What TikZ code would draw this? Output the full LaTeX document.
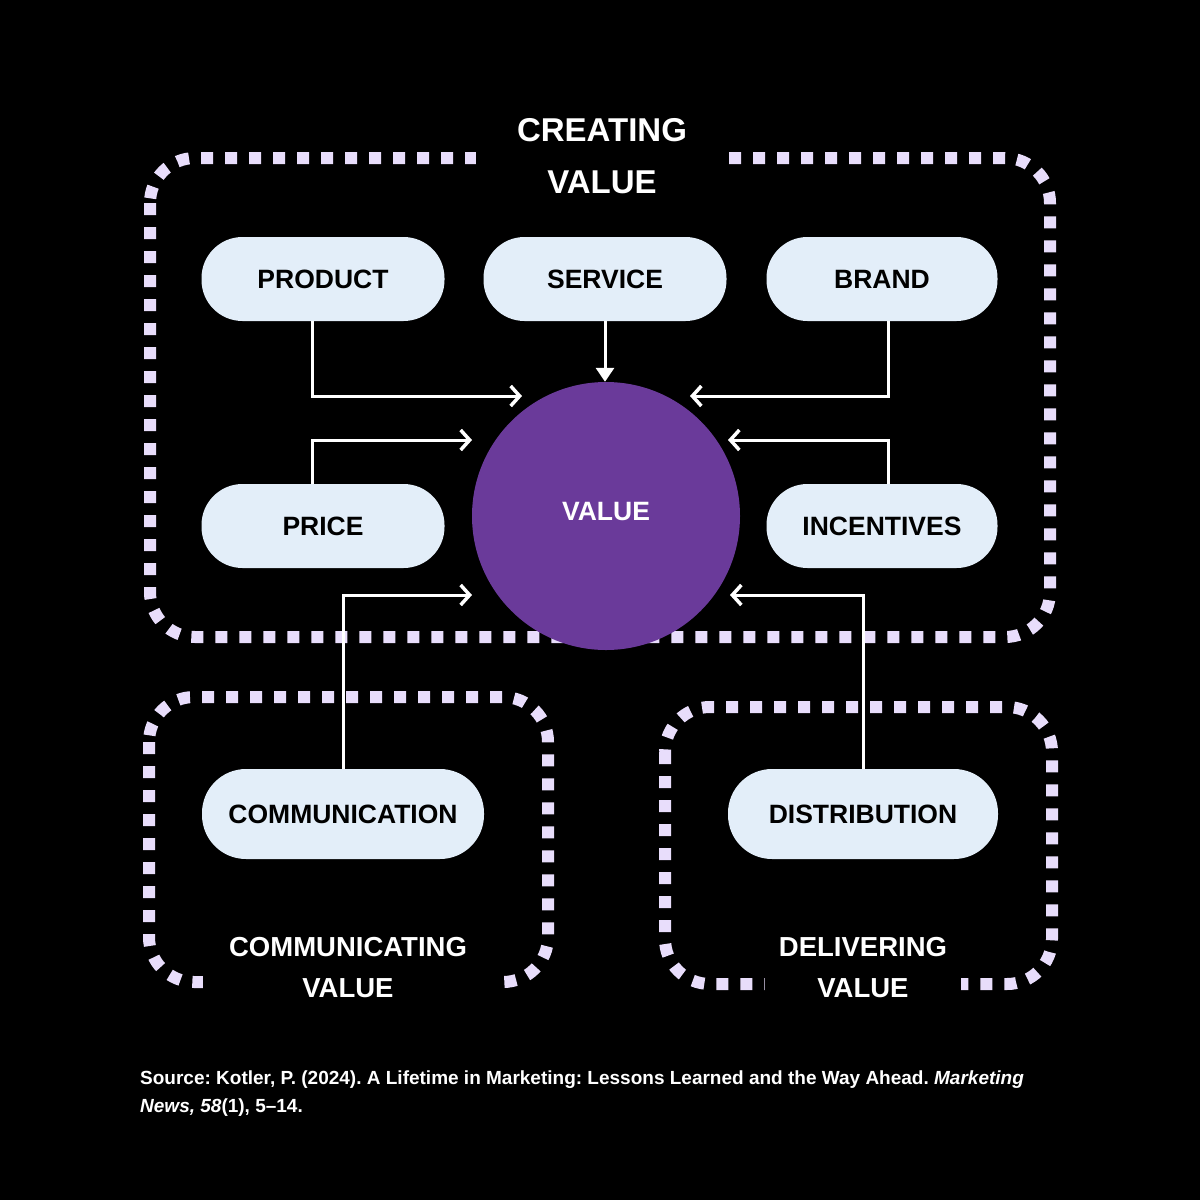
\documentclass[tikz,border=0pt]{standalone}
\usepackage{fontspec}
\setmainfont{Liberation Sans}
\usetikzlibrary{arrows.meta}
\definecolor{dotc}{HTML}{E8DDFB}
\definecolor{pillc}{HTML}{E3EEF9}
\definecolor{purp}{HTML}{6A3A9A}
\frenchspacing
\begin{document}
\begin{tikzpicture}[x=1pt,y=-1pt,
  dotbox/.style={draw=dotc,line width=12pt,dash pattern=on 12pt off 12pt,rounded corners=45pt},
  pill/.style={fill=pillc,rounded corners=41pt,minimum height=84pt,inner sep=0pt,
    font=\fontsize{26.5}{30}\selectfont\bfseries,text=black},
  grouplabel/.style={fill=black,text=white,align=center,inner ysep=4pt,
    font=\fontsize{27.5}{41}\selectfont\bfseries},
  conn/.style={draw=white,line width=3pt,-{Straight Barb[length=9pt,width=20pt,line width=3.5pt]}},
  connd/.style={draw=white,line width=3pt,-{Triangle[length=14pt,width=18pt]}}]
\useasboundingbox[fill=black] (0,0) rectangle (1200,1200);
% dotted group boxes
\draw[dotbox] (150,158) rectangle (1050,637);
\draw[dotbox] (149,697) rectangle (548,982);
\draw[dotbox] (665,707) rectangle (1052,984);
% group labels
\node[grouplabel,font=\fontsize{33}{52}\selectfont\bfseries,minimum width=252pt] (tcreate) at (602,156) {CREATING\\VALUE};
\node[grouplabel,minimum width=290pt] (tcomm) at (348,968) {COMMUNICATING\\VALUE};
\node[grouplabel,minimum width=196pt] (tdeliv) at (863,968) {DELIVERING\\VALUE};
% center circle
\node[circle,fill=purp,minimum size=268pt,inner sep=0pt,text=white,
  font=\fontsize{26.5}{30}\selectfont\bfseries] (value) at (606,516) {\raisebox{9pt}{VALUE}};
% pills
\node[pill,minimum width=243pt] (product) at (323,279) {PRODUCT};
\node[pill,minimum width=243pt] (service) at (605,279) {SERVICE};
\node[pill,minimum width=231pt] (brand) at (882,279) {BRAND};
\node[pill,minimum width=243pt] (price) at (323,526) {PRICE};
\node[pill,minimum width=231pt] (incent) at (882,526) {INCENTIVES};
\node[pill,minimum width=282pt,minimum height=90pt,rounded corners=44pt] (comm) at (343,814) {COMMUNICATION};
\node[pill,minimum width=270pt,minimum height=90pt,rounded corners=44pt] (distr) at (863,814) {DISTRIBUTION};
% arrow tips
\coordinate (tP) at (522,396);
\coordinate (tB) at (690,396);
\coordinate (tPr) at (472,440);
\coordinate (tI) at (728,440);
\coordinate (tC) at (472,595);
\coordinate (tD) at (730,595);
% connectors
\draw[conn] ([xshift=-11pt]product.south) |- (tP);
\draw[connd] (service.south) -- (service.south |- value.north);
\draw[conn] ([xshift=6pt]brand.south) |- (tB);
\draw[conn] ([xshift=-11pt]price.north) |- (tPr);
\draw[conn] ([xshift=6pt]incent.north) |- (tI);
\draw[conn] (comm.north) |- (tC);
\draw[conn] (distr.north) |- (tD);
% source
\node[anchor=north west,text=white,align=left,inner sep=0pt,
  font=\fontsize{19}{28}\selectfont\bfseries] (source) at (140,1071)
  {Source: Kotler, P. (2024). A Lifetime in Marketing: Lessons Learned and the Way Ahead. \textit{Marketing}\\\textit{News, 58}(1), 5–14.};
\end{tikzpicture}
\end{document}
